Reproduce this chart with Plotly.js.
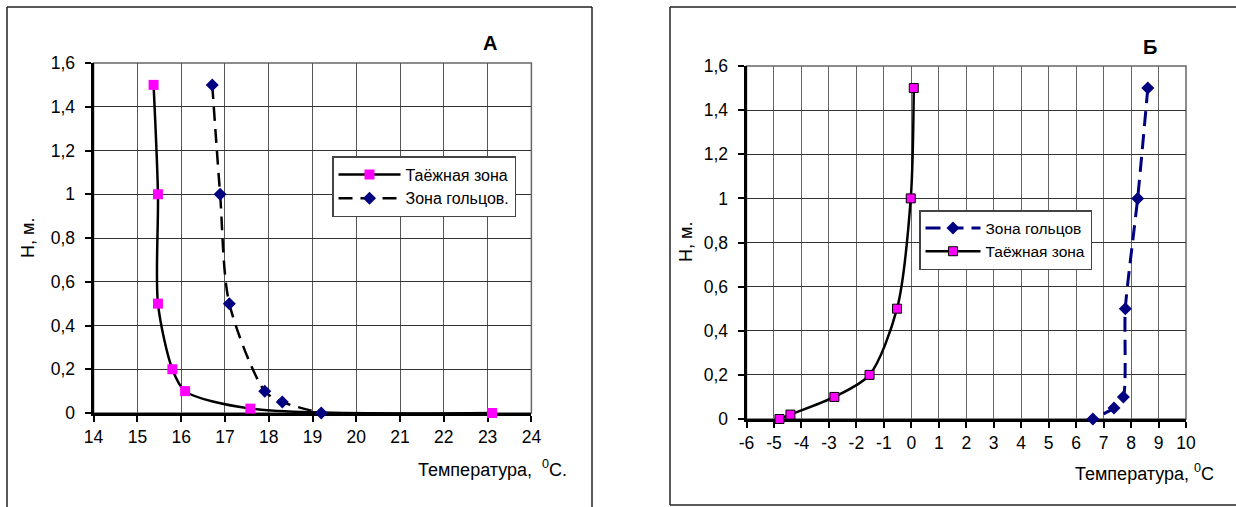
<!DOCTYPE html>
<html>
<head>
<meta charset="utf-8">
<script src="https://cdn.plot.ly/plotly-3.0.1.min.js"></script>
<style>html,body{margin:0;padding:0;background:#fff;}#chart{width:1236px;height:507px;}</style>
</head>
<body>
<div id="chart"></div>
<script>
// ---- Data: panel A ----
const taigaA_T = [15.37, 15.47, 15.47, 15.80, 16.09, 17.58, 23.10];
const taigaA_H = [1.5, 1.0, 0.5, 0.2, 0.1, 0.02, 0.0];
const goltsyA_T = [16.71, 16.89, 17.10, 17.91, 18.31, 19.20];
const goltsyA_H = [1.5, 1.0, 0.5, 0.1, 0.05, 0.0];
// ---- Data: panel Б ----
const goltsyB_T = [8.61, 8.24, 7.79, 7.72, 7.38, 6.61];
const goltsyB_H = [1.5, 1.0, 0.5, 0.1, 0.05, 0.0];
const taigaB_T = [0.09, -0.02, -0.52, -1.52, -2.80, -4.40, -4.80];
const taigaB_H = [1.5, 1.0, 0.5, 0.2, 0.1, 0.02, 0.0];
// ---- Tick labels ----
const xTicksA = [14, 15, 16, 17, 18, 19, 20, 21, 22, 23, 24];
const xTickTextA = ['14','15','16','17','18','19','20','21','22','23','24'];
const xTicksB = [-6,-5,-4,-3,-2,-1,0,1,2,3,4,5,6,7,8,9,10];
const xTickTextB = ['-6','-5','-4','-3','-2','-1','0','1','2','3','4','5','6','7','8','9','10'];
const yTicks = [0, 0.2, 0.4, 0.6, 0.8, 1.0, 1.2, 1.4, 1.6];
const yTickText = ['0','0,2','0,4','0,6','0,8','1','1,2','1,4','1,6'];
const nameTaiga = 'Таёжная зона';
const nameGoltsyA = 'Зона гольцов.';
const nameGoltsyB = 'Зона гольцов';

const W = 1236, H = 507;
const px = v => v / W;
const py = v => 1 - v / H;

const traces = [
  {x: taigaA_T, y: taigaA_H, xaxis: 'x', yaxis: 'y', name: nameTaiga, legend: 'legend',
   mode: 'lines+markers', cliponaxis: false,
   line: {color: '#000', width: 2.5, shape: 'spline', smoothing: 0.8},
   marker: {symbol: 'square', size: 10, color: '#FF00FF'}},
  {x: goltsyA_T, y: goltsyA_H, xaxis: 'x', yaxis: 'y', name: nameGoltsyA, legend: 'legend',
   mode: 'lines+markers', cliponaxis: false,
   line: {color: '#000', width: 2.5, dash: '14px,8px', shape: 'spline', smoothing: 0.8},
   marker: {symbol: 'diamond', size: 10, color: '#000080'}},
  {x: goltsyB_T, y: goltsyB_H, xaxis: 'x2', yaxis: 'y2', name: nameGoltsyB, legend: 'legend2',
   mode: 'lines+markers', cliponaxis: false,
   line: {color: '#000080', width: 3, dash: '15px,8px', shape: 'spline', smoothing: 0.6},
   marker: {symbol: 'diamond', size: 10, color: '#000080'}},
  {x: taigaB_T, y: taigaB_H, xaxis: 'x2', yaxis: 'y2', name: nameTaiga, legend: 'legend2',
   mode: 'lines+markers', cliponaxis: false,
   line: {color: '#000', width: 2.5, shape: 'spline', smoothing: 0.8},
   marker: {symbol: 'square', size: 9, color: '#FF00FF', line: {color: '#000', width: 1}}}
];

const fontFam = 'Liberation Sans, Arial, sans-serif';
const axCommon = {
  showgrid: true, gridwidth: 1, zeroline: false,
  showline: true, linecolor: '#000', linewidth: 3,
  ticks: 'outside', ticklen: 6, tickwidth: 2, tickcolor: '#000',
  tickfont: {family: fontFam, size: 17.5, color: '#000'},
  tickmode: 'array', fixedrange: true, layer: 'below traces'
};

const layout = {
  width: W, height: H,
  margin: {l: 0, r: 0, t: 0, b: 0},
  paper_bgcolor: '#fff', plot_bgcolor: '#fff',
  font: {family: fontFam, color: '#000'},
  xaxis: Object.assign({}, axCommon, {domain: [px(93.6), px(531.4)], range: [14, 24],
    tickvals: xTicksA, ticktext: xTickTextA, anchor: 'y', gridcolor: '#555'}),
  yaxis: Object.assign({}, axCommon, {domain: [py(413), py(63)], range: [0, 1.6],
    tickvals: yTicks, ticktext: yTickText, anchor: 'x', gridcolor: '#333', ticklabelstandoff: 6}),
  xaxis2: Object.assign({}, axCommon, {domain: [px(746.5), px(1186)], range: [-6, 10],
    tickvals: xTicksB, ticktext: xTickTextB, anchor: 'y2', gridcolor: '#666'}),
  yaxis2: Object.assign({}, axCommon, {domain: [py(419), py(66)], range: [0, 1.6],
    tickvals: yTicks, ticktext: yTickText, anchor: 'x2', gridcolor: '#333', ticklabelstandoff: 6}),
  showlegend: true,
  legend: {x: px(332), y: py(156), xanchor: 'left', yanchor: 'top',
    bgcolor: '#fff', bordercolor: '#444', borderwidth: 1.5,
    font: {family: fontFam, size: 16, color: '#000'}, itemwidth: 62,
    tracegroupgap: 0},
  legend2: {x: px(919), y: py(210), xanchor: 'left', yanchor: 'top',
    bgcolor: '#fff', bordercolor: '#444', borderwidth: 1.5,
    font: {family: fontFam, size: 15.5, color: '#000'}, itemwidth: 55,
    tracegroupgap: 0},
  shapes: [
    // outer frames
    {type: 'line', xref: 'paper', yref: 'paper', x0: px(7), x1: px(7), y0: py(7), y1: -0.05, line: {color: '#222', width: 1.5}},
    {type: 'line', xref: 'paper', yref: 'paper', x0: px(7), x1: px(592), y0: py(7), y1: py(7), line: {color: '#222', width: 1.5}},
    {type: 'line', xref: 'paper', yref: 'paper', x0: px(592), x1: px(592), y0: py(7), y1: -0.05, line: {color: '#222', width: 1.5}},
    {type: 'line', xref: 'paper', yref: 'paper', x0: px(670), x1: px(670), y0: py(7), y1: py(505), line: {color: '#222', width: 1.5}},
    {type: 'line', xref: 'paper', yref: 'paper', x0: px(670), x1: 1.05, y0: py(7), y1: py(7), line: {color: '#222', width: 1.5}},
    {type: 'line', xref: 'paper', yref: 'paper', x0: px(670), x1: 1.05, y0: py(505), y1: py(505), line: {color: '#222', width: 1.5}},
    // plot area borders (top/right)
    {type: 'rect', xref: 'x domain', yref: 'y domain', x0: 0, x1: 1, y0: 0, y1: 1, layer: 'below', line: {color: '#666', width: 1.5}},
    {type: 'rect', xref: 'x2 domain', yref: 'y2 domain', x0: 0, x1: 1, y0: 0, y1: 1, layer: 'below', line: {color: '#666', width: 1.5}}
  ],
  annotations: [
    {text: '<b>А</b>', xref: 'paper', yref: 'paper', x: px(490), y: py(43), showarrow: false,
     xanchor: 'center', yanchor: 'middle', font: {family: fontFam, size: 20, color: '#000'}},
    {text: '<b>Б</b>', xref: 'paper', yref: 'paper', x: px(1150), y: py(47), showarrow: false,
     xanchor: 'center', yanchor: 'middle', font: {family: fontFam, size: 20, color: '#000'}},
    {text: 'H, м.', xref: 'paper', yref: 'paper', x: px(28), y: py(238), showarrow: false, textangle: -90,
     xanchor: 'center', yanchor: 'middle', font: {family: fontFam, size: 18, color: '#000'}},
    {text: 'H, м.', xref: 'paper', yref: 'paper', x: px(686), y: py(242), showarrow: false, textangle: -90,
     xanchor: 'center', yanchor: 'middle', font: {family: fontFam, size: 18, color: '#000'}},
    {text: 'Температура,  <sup>0</sup>C.', xref: 'paper', yref: 'paper', x: px(569), y: py(468), showarrow: false,
     xanchor: 'right', yanchor: 'middle', font: {family: fontFam, size: 18, color: '#000'}},
    {text: 'Температура, <sup>0</sup>C', xref: 'paper', yref: 'paper', x: px(1216), y: py(472), showarrow: false,
     xanchor: 'right', yanchor: 'middle', font: {family: fontFam, size: 18, color: '#000'}}
  ]
};

Plotly.newPlot('chart', traces, layout, {displayModeBar: false, staticPlot: true});
</script>
</body>
</html>
